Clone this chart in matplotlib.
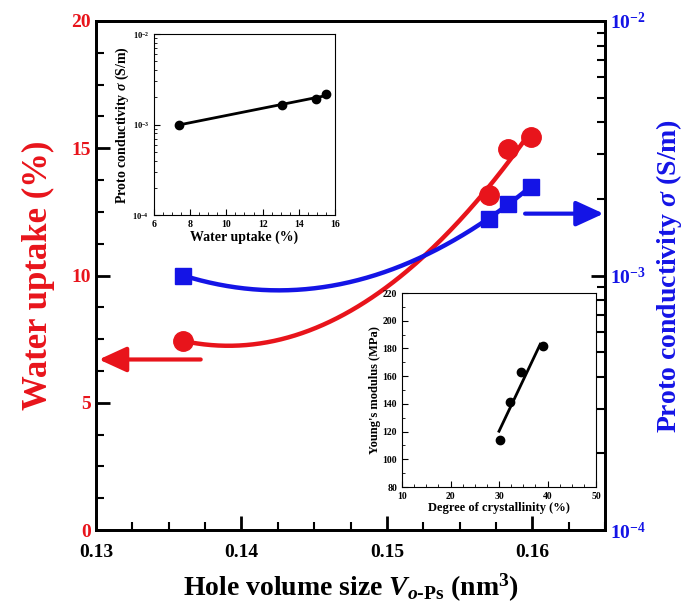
import numpy as np
import matplotlib
matplotlib.use("Agg")
import matplotlib.pyplot as plt
from matplotlib.ticker import MultipleLocator, LogLocator, NullFormatter

plt.rcParams['font.family'] = ['Liberation Serif', 'DejaVu Serif']
plt.rcParams['font.weight'] = 'bold'
plt.rcParams['axes.labelweight'] = 'bold'
plt.rcParams['mathtext.fontset'] = 'custom'
plt.rcParams['mathtext.rm'] = 'Liberation Serif:bold'
plt.rcParams['mathtext.it'] = 'Liberation Serif:italic:bold'
plt.rcParams['mathtext.bf'] = 'Liberation Serif:bold'

RED = '#e8141b'
BLUE = '#1414e6'

# main data
hole_volume = [0.136, 0.157, 0.1583, 0.1599]
water_uptake = [7.43, 13.16, 14.97, 15.44]
conductivity = [1.0e-3, 1.67e-3, 1.91e-3, 2.23e-3]

# inset 1: conductivity vs water uptake
inset1_x = [7.4, 13.1, 14.95, 15.5]
inset1_y = [1.0e-3, 1.64e-3, 1.9e-3, 2.2e-3]

# inset 2: Young's modulus vs crystallinity
inset2_x = [30.3, 32.2, 34.5, 39.1]
inset2_y = [114, 141, 163, 182]

fig = plt.figure(figsize=(6.88, 6.14), dpi=100)
ax = fig.add_axes([0.1395, 0.1368, 0.74, 0.829])
ax2 = ax.twinx()

# fitted curves
xs = np.linspace(min(hole_volume), max(hole_volume), 200)
p_red = np.polyfit(hole_volume, water_uptake, 2)
ax.plot(xs, np.polyval(p_red, xs), color=RED, lw=3.2, zorder=3)
ax.plot(hole_volume, water_uptake, 'o', color=RED, ms=14, zorder=4)

p_blue = np.polyfit(hole_volume, np.log10(conductivity), 2)
ax2.plot(xs, 10 ** np.polyval(p_blue, xs), color=BLUE, lw=3.2, zorder=3)
ax2.plot(hole_volume, conductivity, 's', color=BLUE, ms=12, zorder=4)

# arrows
ax.annotate('', xy=(0.1302, 6.7), xytext=(0.1372, 6.7),
            arrowprops=dict(arrowstyle='-|>,head_length=1.2,head_width=0.55',
                            color=RED, lw=3, mutation_scale=14, shrinkA=0, shrinkB=0))
ax2.annotate('', xy=(0.1649, 1.75e-3), xytext=(0.1595, 1.75e-3),
             arrowprops=dict(arrowstyle='-|>,head_length=1.2,head_width=0.55',
                             color=BLUE, lw=3, mutation_scale=14, shrinkA=0, shrinkB=0))

ax.set_xlim(0.13, 0.165)
ax.set_ylim(0, 20)
ax.xaxis.set_minor_locator(MultipleLocator(0.0025))
ax.yaxis.set_major_locator(MultipleLocator(5))
ax.yaxis.set_minor_locator(MultipleLocator(1.25))
ax.set_xticks([0.13, 0.14, 0.15, 0.16])
ax.set_xticklabels(['0.13', '0.14', '0.15', '0.16'])

ax2.set_yscale('log')
ax2.set_ylim(1e-4, 1e-2)
ax2.yaxis.set_major_locator(LogLocator(base=10, numticks=5))
ax2.yaxis.set_minor_locator(LogLocator(base=10, subs=np.arange(2, 10), numticks=20))
ax2.yaxis.set_minor_formatter(NullFormatter())

for a in (ax, ax2):
    for s in a.spines.values():
        s.set_linewidth(2)
ax.tick_params(which='major', direction='in', length=10, width=2, labelsize=14)
ax.tick_params(which='minor', direction='in', length=6, width=1.5)
ax.tick_params(axis='y', labelcolor=RED)
ax.tick_params(axis='x', pad=10)
ax2.tick_params(which='major', direction='in', length=10, width=2, labelsize=14, labelcolor=BLUE)
ax2.tick_params(which='minor', direction='in', length=6, width=1.5)

ax.set_xlabel(r'Hole volume size $V_{o\mathrm{\text{-}Ps}}$ (nm$^3$)', fontsize=20, labelpad=8)
ax.set_ylabel('Water uptake (%)', fontsize=25, color=RED, labelpad=12)
ax2.set_ylabel(r'Proto conductivity $\sigma$ (S/m)', fontsize=20, color=BLUE, labelpad=6)

# inset 1
ins1 = fig.add_axes([0.2238, 0.6498, 0.2631, 0.2948])
p1 = np.polyfit(inset1_x, np.log10(inset1_y), 1)
x1 = np.array([min(inset1_x), max(inset1_x)])
ins1.plot(x1, 10 ** np.polyval(p1, x1), color='black', lw=2)
ins1.plot(inset1_x, inset1_y, 'o', color='black', ms=6)
ins1.set_yscale('log')
ins1.set_xlim(6, 16)
ins1.set_ylim(1e-4, 1e-2)
ins1.xaxis.set_major_locator(MultipleLocator(2))
ins1.xaxis.set_minor_locator(MultipleLocator(0.5))
ins1.yaxis.set_minor_formatter(NullFormatter())
ins1.tick_params(which='both', direction='in', labelsize=7)
ins1.tick_params(axis='y', labelsize=6)
ins1.tick_params(which='major', length=4)
ins1.tick_params(which='minor', length=2)
ins1.set_xlabel('Water uptake (%)', fontsize=10, labelpad=1)
ins1.set_ylabel(r'Proto conductivity $\sigma$ (S/m)', fontsize=10, labelpad=1)

# inset 2
ins2 = fig.add_axes([0.5843, 0.2068, 0.282, 0.316])
p2 = np.polyfit(inset2_x, inset2_y, 1)
x2 = np.array([min(inset2_x) - 0.3, max(inset2_x) - 0.6])
ins2.plot(x2, np.polyval(p2, x2), color='black', lw=2)
ins2.plot(inset2_x, inset2_y, 'o', color='black', ms=6)
ins2.set_xlim(10, 50)
ins2.set_ylim(80, 220)
ins2.xaxis.set_major_locator(MultipleLocator(10))
ins2.xaxis.set_minor_locator(MultipleLocator(2.5))
ins2.yaxis.set_major_locator(MultipleLocator(20))
ins2.yaxis.set_minor_locator(MultipleLocator(10))
ins2.tick_params(which='both', direction='in', labelsize=7)
ins2.tick_params(which='major', length=4)
ins2.tick_params(which='minor', length=2)
ins2.set_xlabel('Degree of crystallinity (%)', fontsize=9, labelpad=1)
ins2.set_ylabel("Young's modulus (MPa)", fontsize=9, labelpad=1)

fig.savefig('out.png', dpi=100)
